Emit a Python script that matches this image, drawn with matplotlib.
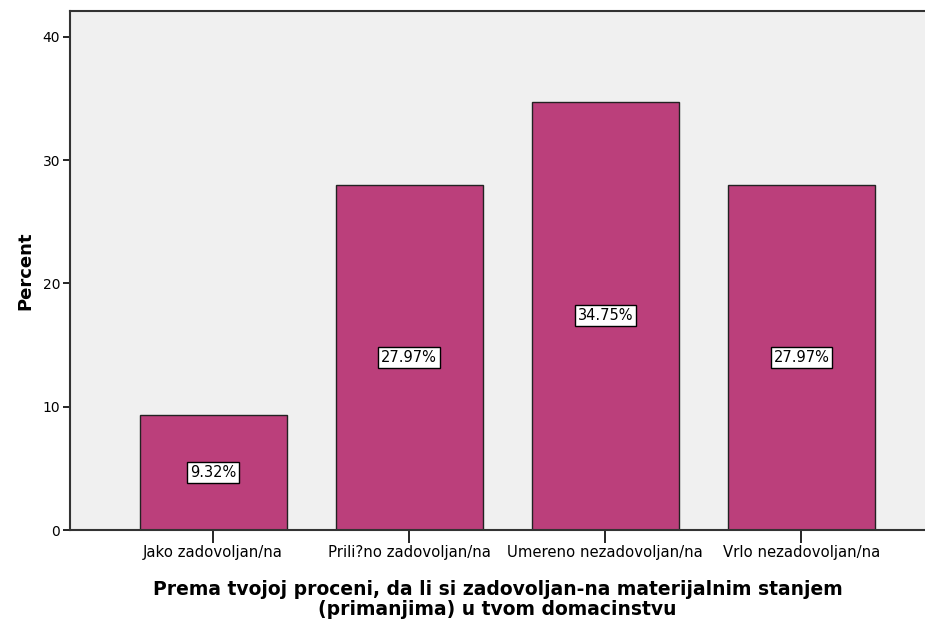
import matplotlib.pyplot as plt

kategorije = ['Jako zadovoljan/na', 'Prili?no zadovoljan/na', 'Umereno nezadovoljan/na', 'Vrlo nezadovoljan/na']
procenti = [9.32, 27.97, 34.75, 27.97]
y_ticks = [0, 10, 20, 30, 40]

plt.rcParams['font.family'] = ['DejaVu Sans']

fig = plt.figure(figsize=(9.25, 6.22), dpi=100)
ax = fig.add_axes([70 / 925, 1 - 530 / 622, 1 - 70 / 925, (530 - 11) / 622])
ax.set_facecolor('#F0F0F0')

pozicije = list(range(len(kategorije)))
ax.bar(pozicije, procenti, width=0.75, color='#BB3F7B', edgecolor='#222222', linewidth=1, zorder=2)

for x, v in zip(pozicije, procenti):
    ax.text(x, v / 2, f'{v:.2f}%', ha='center', va='center', fontsize=10.5, zorder=3,
            bbox=dict(boxstyle='square,pad=0.2', facecolor='white', edgecolor='black', linewidth=1))

ax.set_xlim(-0.73, 3.63)
ax.set_ylim(0, 42.1)
ax.set_yticks(y_ticks)
ax.set_xticks(pozicije)
ax.set_xticklabels(kategorije, fontsize=10.7)
ax.tick_params(axis='y', labelsize=10, length=5, width=1.2, direction='out', pad=2)
ax.tick_params(axis='x', length=9, width=1.2, direction='out', pad=2)

for s in ['left', 'bottom', 'top']:
    ax.spines[s].set_linewidth(1.5)
    ax.spines[s].set_color('#333333')
ax.spines['right'].set_visible(False)

ax.set_ylabel('Percent', fontsize=13, fontweight='bold', labelpad=6)
ax.set_xlabel('Prema tvojoj proceni, da li si zadovoljan-na materijalnim stanjem\n(primanjima) u tvom domacinstvu',
              fontsize=13.5, fontweight='bold', linespacing=1.1, labelpad=14)

fig.savefig('out.png', dpi=100)
